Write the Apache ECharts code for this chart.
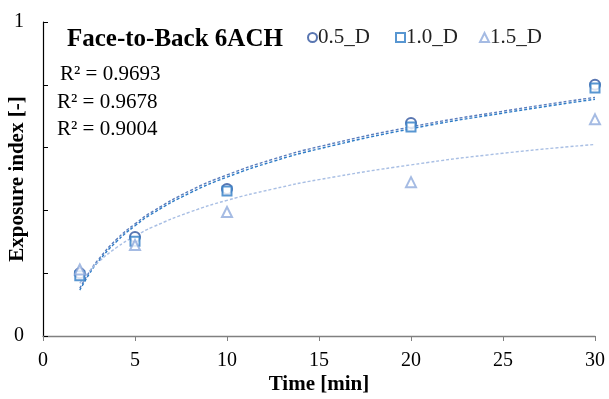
<!DOCTYPE html>
<html>
<head>
<meta charset="utf-8">
<script src="https://cdn.jsdelivr.net/npm/echarts@6/dist/echarts.min.js"></script>
<style>html,body{margin:0;padding:0;background:#fff}#c{width:609px;height:399px}</style>
</head>
<body>
<div id="c"></div>
<script>
// Measured data (time in min, exposure index)
var times = [2, 5, 10, 20, 30];
var d05 = [0.200, 0.315, 0.468, 0.678, 0.800];
var d10 = [0.192, 0.302, 0.462, 0.666, 0.790];
var d15 = [0.212, 0.290, 0.395, 0.490, 0.690];
// Trendline points
var trendX = [2, 2.5, 3, 4, 5, 6, 8, 10, 12.5, 15, 20, 25, 30];
var t05 = [0.152, 0.202, 0.243, 0.308, 0.357, 0.398, 0.463, 0.513, 0.563, 0.603, 0.666, 0.716, 0.760];
var t10 = [0.146, 0.196, 0.237, 0.301, 0.351, 0.392, 0.456, 0.506, 0.556, 0.596, 0.660, 0.710, 0.754];
var t15 = [0.168, 0.205, 0.235, 0.282, 0.318, 0.348, 0.395, 0.432, 0.468, 0.498, 0.545, 0.582, 0.610];
var r2Labels = ['R² = 0.9693', 'R² = 0.9678', 'R² = 0.9004'];
var names = ['0.5_D', '1.0_D', '1.5_D'];
var colors = ['#30549E', '#2E7CC6', '#8FAADC'];
var lineColors = ['#5B7DBE', '#2E7CC6', '#A9BFE4'];

function pairs(xs, ys) { return xs.map(function (x, i) { return [x, ys[i]]; }); }

var font = 'Liberation Serif';
var chart = echarts.init(document.getElementById('c'), null, {renderer: 'canvas'});
var symbols = ['emptyCircle', 'emptyRect', 'emptyTriangle'];
var dataSets = [d05, d10, d15];
var trendSets = [t05, t10, t15];
var series = [];
for (var i = 0; i < 3; i++) {
  series.push({
    name: names[i], type: 'scatter', data: pairs(times, dataSets[i]),
    symbol: symbols[i], symbolSize: i === 1 ? 9 : 10,
    itemStyle: {color: colors[i], borderColor: colors[i], borderWidth: 1.4},
    z: 3
  });
}
for (var j = 0; j < 3; j++) {
  series.push({
    name: 'trend' + j, type: 'line', data: pairs(trendX, trendSets[j]),
    smooth: true, showSymbol: false, symbol: 'none',
    lineStyle: {color: lineColors[j], width: 1.4, type: [3, 2]},
    z: 2, silent: true
  });
}
var legendLefts = [307, 395, 479];
chart.setOption({
  animation: false,
  grid: {left: 43, right: 14, top: 22, bottom: 63, containLabel: false, outerBoundsMode: 'none'},
  legend: names.map(function (n, i) {
    return {
      data: [{name: n, icon: symbols[i]}],
      left: legendLefts[i], top: 27, padding: 0, itemWidth: 9, itemHeight: 9, itemGap: 0,
      textStyle: {fontFamily: font, fontSize: 21, color: '#222', padding: [2, 0, 0, -4]}
    };
  }),
  graphic: [{
    type: 'text', left: 67, top: 27,
    style: {text: 'Face-to-Back 6ACH', fontFamily: font, fontWeight: 'bold', fontSize: 25, fill: '#000'}
  }].concat(r2Labels.map(function (t, i) {
    return {
      type: 'text', left: i === 0 ? 60 : 57, top: 64 + i * 27.5,
      style: {text: t, fontFamily: font, fontSize: 21, fill: '#000'}
    };
  })),
  xAxis: {
    type: 'value', min: 0, max: 30, interval: 5,
    name: 'Time [min]', nameLocation: 'middle', nameGap: 38, nameMoveOverlap: false,
    nameTextStyle: {fontFamily: font, fontWeight: 'bold', fontSize: 21, color: '#000'},
    axisLine: {onZero: false, lineStyle: {color: '#808080', width: 1.3}},
    axisTick: {inside: false, length: 5, lineStyle: {color: '#808080'}},
    axisLabel: {fontFamily: font, fontSize: 20, color: '#000', margin: 15},
    splitLine: {show: false}
  },
  yAxis: {
    type: 'value', min: 0, max: 1, interval: 0.2,
    name: 'Exposure index [-]', nameLocation: 'middle', nameGap: 15, nameMoveOverlap: false,
    nameTextStyle: {fontFamily: font, fontWeight: 'bold', fontSize: 21, color: '#000'},
    axisLine: {show: true, lineStyle: {color: '#000', width: 1.2}},
    axisTick: {show: true, inside: true, length: 5, lineStyle: {color: '#000'}},
    axisLabel: {
      fontFamily: font, fontSize: 20, color: '#000', margin: 19,
      formatter: function (v) { return (v === 0 || v === 1) ? String(v) : ''; }
    },
    splitLine: {show: false}
  },
  series: series
});
</script>
</body>
</html>
